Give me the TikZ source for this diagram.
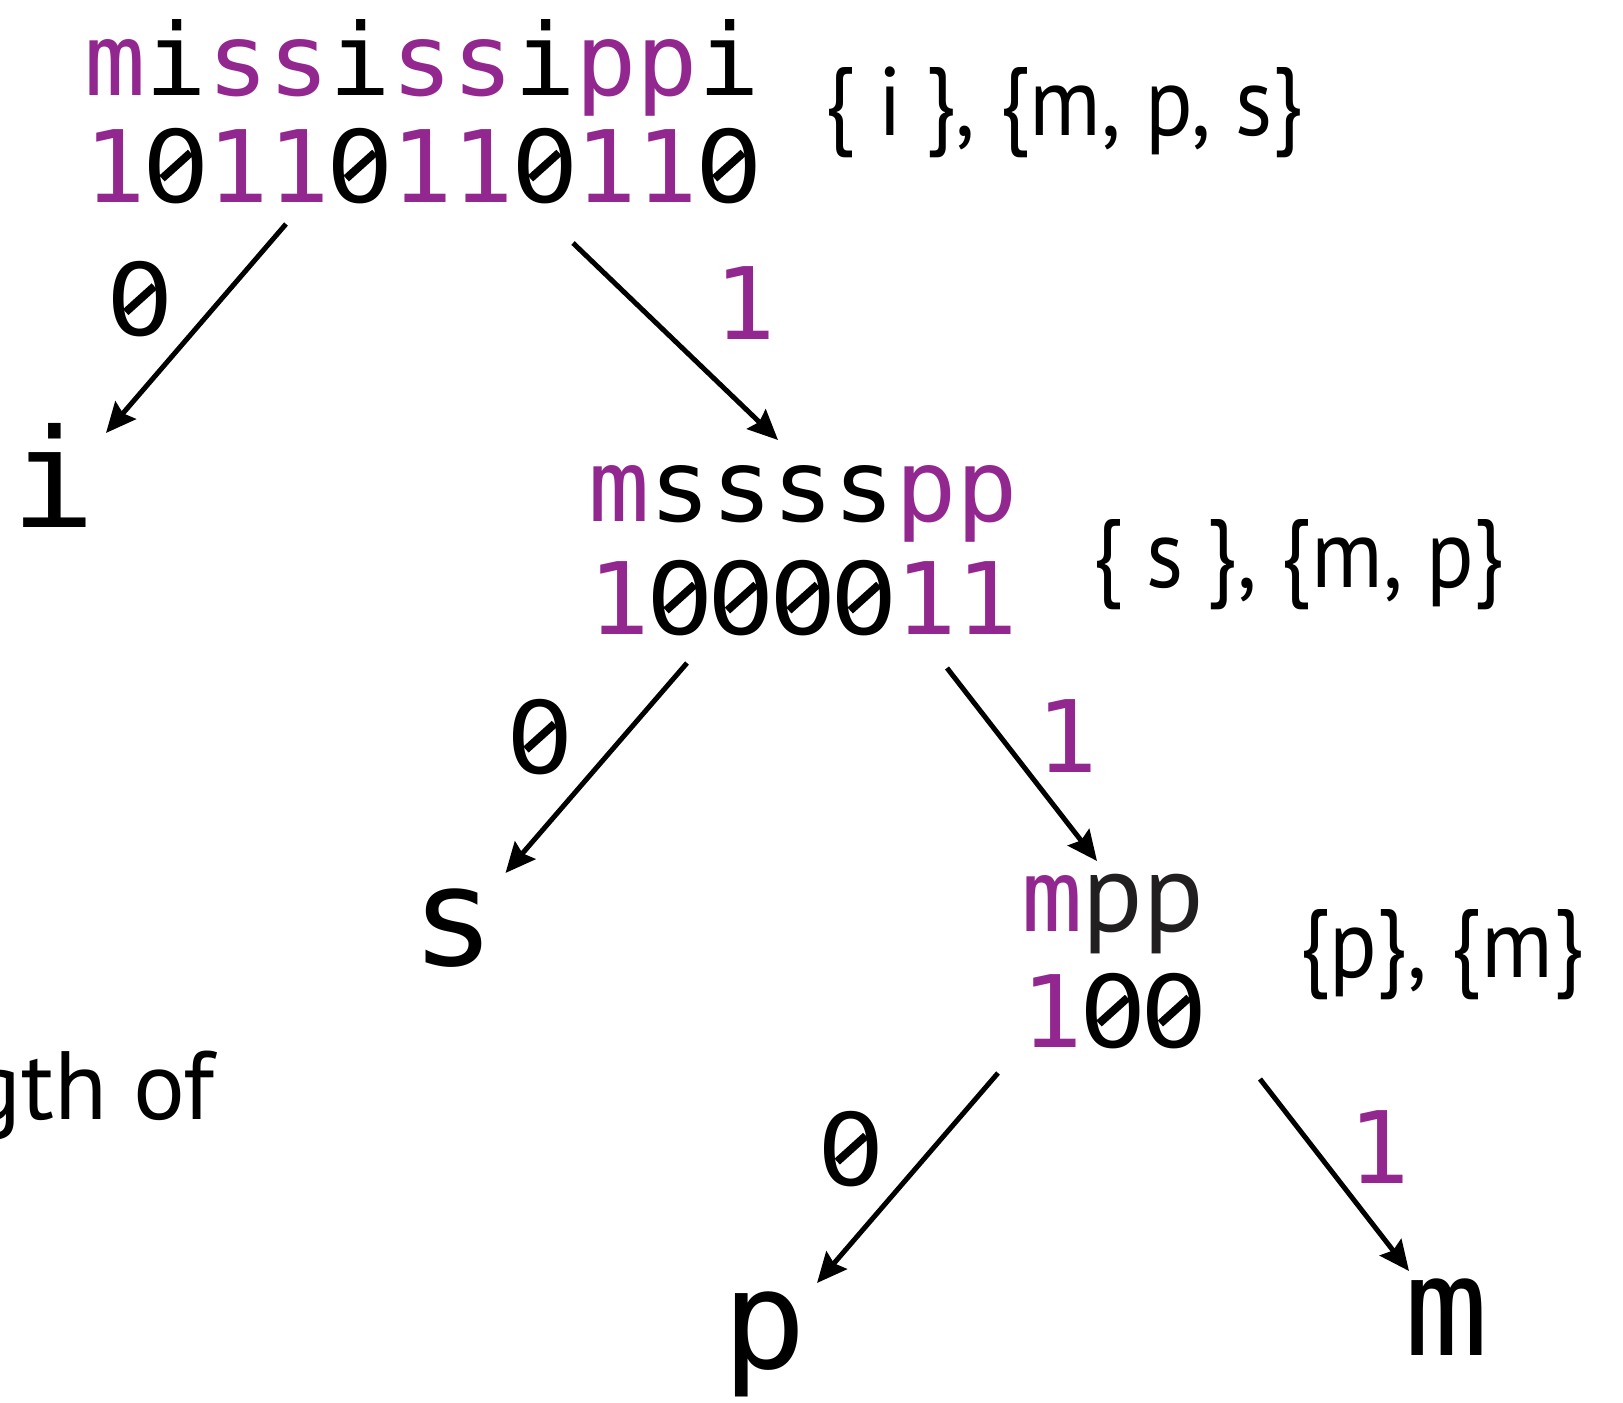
\documentclass[tikz,border=0pt]{standalone}
\usepackage{fontspec}
\usepackage{xcolor}
\usepackage{tikz}
\usetikzlibrary{arrows.meta}
\setmainfont[FakeStretch=0.91]{PT Sans}
\newfontfamily\capfont{PT Sans}
\newfontfamily\mono[FakeStretch=1.02]{DejaVu Sans Mono}
\newfontfamily\zerofont{DejaVu Sans}
\definecolor{bitpurple}{RGB}{146,39,143}
\definecolor{inkgray}{RGB}{34,31,32}

\newcommand{\hl}[1]{\textcolor{bitpurple}{#1}}
% slashed zero, one mono cell wide
\newcommand{\zr}{\makebox[0.614em]{\ooalign{\scalebox{1.06}[1]{\zerofont 0}\cr\hidewidth\raisebox{.364em}{\rotatebox[origin=c]{42}{\rule[-.04em]{.385em}{.08em}}}\hidewidth\cr}}}

\tikzset{
  word/.style={inner sep=0pt, anchor=base west, font=\mono\fontsize{100}{100}\selectfont},
  leaf/.style={inner sep=0pt, anchor=base west, font=\mono\fontsize{137}{137}\selectfont},
  setlbl/.style={inner sep=0pt, anchor=base west, font=\fontsize{97}{97}\selectfont},
  bit/.style={inner sep=0pt, font=\mono\fontsize{100}{100}\selectfont},
  edge/.style={line width=5pt, -{Stealth[length=30pt, width=27pt, inset=4pt]}},
}

\begin{document}
\begin{tikzpicture}[x=1pt, y=-1pt]
    \useasboundingbox (0,0) rectangle (1623,1403);

    % Root
    \node[word] (root) at (84,95) {\hl{m}i\hl{ss}i\hl{ss}i\hl{pp}i};
    \node[word] (rootbits) at (84,202) {\hl{1}\zr\hl{11}\zr\hl{11}\zr\hl{11}\zr};
    \node[setlbl] (rootset) at (824,135) {\{ i \}, \{m, p, s\}};

    % Second level
    \node[leaf] (leafi) at (11,527) {i};
    \node[word] (mid) at (588,521) {\hl{m}ssss\hl{pp}};
    \node[word] (midbits) at (588,634) {\hl{1}\zr\zr\zr\zr\hl{11}};
    \node[setlbl] (midset) at (1092,587) {\{ s \}, \{m, p\}};

    % Third level
    \node[leaf] (leafs) at (411,965) {s};
    \node[word] (low) at (1021,931) {\hl{m}{\capfont\color{inkgray}\fontsize{112}{112}\selectfont pp}};
    \node[word] (lowbits) at (1021,1047) {\hl{1}\zr\zr};
    \node[setlbl] (lowset) at (1299,977) {\{p\}, \{m\}};

    % Bottom leaves
    \node[leaf] (leafp) at (722,1368) {p};
    \node[leaf] (leafm) at (1404,1355) {m};

    % Text running in from the left
    \node[setlbl, anchor=base east, font=\capfont\fontsize{97}{97}\selectfont] (caption) at (215,1119) {gth of};

    % Edges
    \draw[edge] ([shift={(202,22)}]rootbits.base west) -- node[bit, xshift=-56pt, yshift=30pt] {\zr} ([shift={(95,-94)}]leafi.base west);
    \draw[edge] ([shift={(489,41)}]rootbits.base west) -- node[bit, text=bitpurple, xshift=70pt, yshift=38pt] {1} ([shift={(190,-81)}]mid.base west);
    \draw[edge] ([shift={(99,29)}]midbits.base west) -- node[bit, xshift=-56pt, yshift=32pt] {\zr} ([shift={(94.5,-92)}]leafs.base west);
    \draw[edge] ([shift={(359,34)}]midbits.base west) -- node[bit, text=bitpurple, xshift=45pt, yshift=28pt] {1} ([shift={(76,-70)}]low.base west);
    \draw[edge] ([shift={(-23,26)}]lowbits.base west) -- node[bit, xshift=-56pt, yshift=30pt] {\zr} ([shift={(95,-85)}]leafp.base west);
    \draw[edge] ([shift={(239,32)}]lowbits.base west) -- node[bit, text=bitpurple, xshift=45pt, yshift=28pt] {1} ([shift={(5,-84)}]leafm.base west);
\end{tikzpicture}
\end{document}
